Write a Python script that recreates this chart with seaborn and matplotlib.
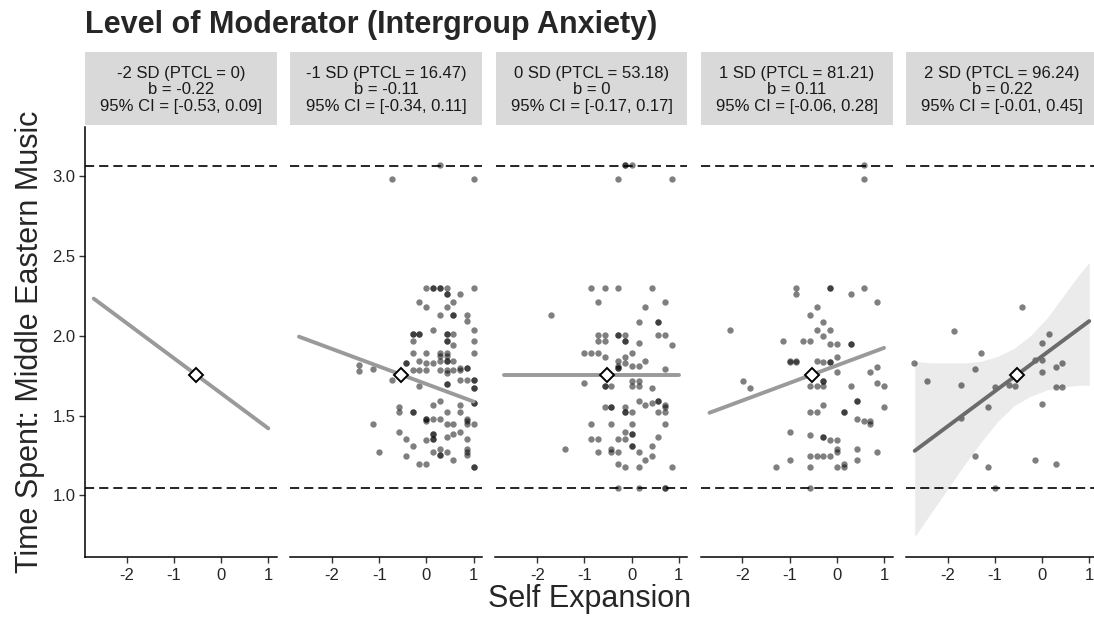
import numpy as np
import pandas as pd
import seaborn as sns
import matplotlib.pyplot as plt

sns.set_theme(style="ticks")
plt.rcParams["font.family"] = ["Liberation Sans", "DejaVu Sans"]
plt.rcParams["axes.unicode_minus"] = False

# facet labels and simple slopes
strip_labels = [
    "-2 SD (PTCL = 0)\nb = -0.22\n95% CI = [-0.53, 0.09]",
    "-1 SD (PTCL = 16.47)\nb = -0.11\n95% CI = [-0.34, 0.11]",
    "0 SD (PTCL = 53.18)\nb = 0\n95% CI = [-0.17, 0.17]",
    "1 SD (PTCL = 81.21)\nb = 0.11\n95% CI = [-0.06, 0.28]",
    "2 SD (PTCL = 96.24)\nb = 0.22\n95% CI = [-0.01, 0.45]",
]
slopes = [-0.22, -0.11, 0.0, 0.11, 0.22]
significant = [False, False, False, False, True]
x_span = [-2.7, 1.0]
mean_x, mean_y = -0.53, 1.756
y_max, y_min = 3.068, 1.046

# confidence band for the +2 SD panel
band_x = [-2.7, -2.35, -2.0, -1.65, -1.3, -0.95, -0.6, -0.25, 0.1, 0.45, 0.8, 1.0]
band_lo = [0.74, 0.89, 1.04, 1.19, 1.33, 1.46, 1.56, 1.62, 1.66, 1.68, 1.69, 1.69]
band_hi = [1.84, 1.83, 1.83, 1.83, 1.84, 1.87, 1.92, 2.00, 2.11, 2.25, 2.39, 2.46]

# raw points per panel, grouped by y value: (y, [x, ...])
p1_rows = []
p2_rows = [
    (3.07, [0.29]),
    (2.985, [-0.72, 1.00]),
    (2.30, [0.00, 0.15, 0.15, 0.29, 0.29, 0.43, 1.00]),
    (2.26, [0.43, 0.43, 0.71]),
    (2.215, [-0.15, 0.57]),
    (2.18, [0.00, 0.43]),
    (2.13, [0.29, 0.57, 0.57, 0.86]),
    (2.09, [0.86]),
    (2.035, [0.15, 1.00]),
    (2.01, [-0.29, -0.29, -0.15, -0.15, 0.43, 0.43, 0.57]),
    (1.965, [-0.29, 0.43, 0.43, 1.00]),
    (1.94, [0.57]),
    (1.89, [-0.29, 0.00, 0.29, 0.43, 1.00]),
    (1.875, [0.29, 0.43]),
    (1.845, [-0.15, 0.29, 0.43, 0.43, 0.57]),
    (1.83, [-0.43, -0.43, 0.00, 0.15]),
    (1.817, [-1.42]),
    (1.80, [0.71, 0.86, 0.86]),
    (1.792, [-1.14]),
    (1.786, [-0.29, -0.15, 0.00, 0.29, 0.43, 0.57, 0.71]),
    (1.78, [-1.42]),
    (1.765, [0.43]),
    (1.72, [-0.72, 0.71, 0.86, 1.00, 1.00]),
    (1.70, [0.43, 0.43]),
    (1.688, [-0.15]),
    (1.673, [1.00, 1.00]),
    (1.594, [0.29]),
    (1.58, [1.00, 1.00]),
    (1.569, [0.15, 0.71]),
    (1.552, [-0.57]),
    (1.521, [-0.57, -0.29, -0.29, 0.43, 0.71]),
    (1.48, [0.00, 0.00, 0.15, 0.29, 0.86]),
    (1.465, [0.00, 0.86]),
    (1.444, [-1.14, 0.43, 0.57, 0.86, 1.00]),
    (1.396, [-0.57, 0.71]),
    (1.381, [0.15, 0.15, 0.57]),
    (1.365, [0.43]),
    (1.354, [-0.43, 0.15, 0.15, 0.86]),
    (1.344, [0.00]),
    (1.306, [-0.29]),
    (1.292, [0.29, 0.86]),
    (1.271, [-1.00, 0.15, 0.43, 0.86]),
    (1.25, [0.29, 0.29, 0.86]),
    (1.244, [-0.43]),
    (1.219, [0.57]),
    (1.194, [-0.15, 0.00]),
    (1.177, [1.00, 1.00]),
]
p3_rows = [
    (3.07, [-0.15, -0.15, 0.00]),
    (2.985, [-0.29, 0.86]),
    (2.30, [-0.86, -0.57, -0.29, 0.43]),
    (2.213, [-0.72, 0.71]),
    (2.18, [0.29]),
    (2.13, [-1.70]),
    (2.088, [0.15, 0.57, 0.57]),
    (2.008, [-0.72, -0.57, -0.29, -0.29, -0.15, 0.57, 0.71]),
    (1.965, [-0.72, -0.57, -0.15, -0.15]),
    (1.952, [0.15]),
    (1.942, [0.86]),
    (1.89, [-1.00, -0.86, -0.72, 0.00]),
    (1.865, [-0.57, -0.15]),
    (1.844, [-0.29, 0.29]),
    (1.829, [-0.15]),
    (1.813, [-0.29, 0.00, 0.15]),
    (1.798, [-0.29, -0.29]),
    (1.792, [0.71]),
    (1.719, [0.00, 0.15]),
    (1.704, [-1.00]),
    (1.688, [-0.57, -0.57, -0.43, 0.00, 0.15]),
    (1.673, [0.43]),
    (1.594, [0.15, 0.57, 0.57]),
    (1.579, [0.43]),
    (1.569, [0.29, 0.71]),
    (1.552, [-0.57, -0.43, -0.43, -0.15, 0.71]),
    (1.521, [-0.15, -0.15, 0.00, 0.57, 0.71]),
    (1.444, [-0.86, -0.43, 0.00, 0.71]),
    (1.396, [-0.15]),
    (1.381, [0.00, 0.00]),
    (1.365, [0.57]),
    (1.354, [-0.86, -0.72, -0.29, -0.15]),
    (1.306, [0.00, 0.00, 0.43]),
    (1.292, [-1.42, -0.43]),
    (1.271, [-0.72, -0.43, -0.29, 0.15]),
    (1.244, [0.43]),
    (1.219, [0.29]),
    (1.194, [-0.29]),
    (1.177, [-0.15, 0.15, 0.86]),
    (1.046, [-0.29, 0.15, 0.71, 0.71]),
]
p4_rows = [
    (3.07, [0.57]),
    (2.985, [0.57]),
    (2.30, [-0.86, -0.15, -0.15, 0.57]),
    (2.26, [-0.86, 0.29]),
    (2.215, [0.86]),
    (2.18, [-0.43]),
    (2.13, [-0.57]),
    (2.088, [-0.29]),
    (2.035, [-2.27, -0.43, -0.15]),
    (2.00, [-0.29]),
    (1.965, [-1.14, -0.72, -0.57]),
    (1.948, [-0.15, 0.00, 0.29, 0.29]),
    (1.869, [0.00]),
    (1.844, [-1.00, -0.86, -0.43]),
    (1.833, [-1.00, -0.86, -0.29, -0.15, -0.15]),
    (1.806, [0.86]),
    (1.771, [0.00, 0.71]),
    (1.719, [-1.99, -0.29, -0.29]),
    (1.704, [0.86]),
    (1.688, [-0.57, -0.43, -0.29, 0.29, 1.00]),
    (1.673, [-1.85]),
    (1.594, [0.43, 0.43]),
    (1.569, [-0.29]),
    (1.552, [1.00]),
    (1.521, [-0.57, -0.43, 0.15, 0.15]),
    (1.479, [0.43]),
    (1.465, [0.57, 0.71]),
    (1.444, [0.71]),
    (1.396, [-1.00]),
    (1.375, [-0.57]),
    (1.365, [-0.29, -0.29]),
    (1.344, [-0.15, 0.00]),
    (1.292, [0.00, 0.43]),
    (1.271, [0.00, 0.86]),
    (1.244, [-0.57, -0.43, -0.29, -0.15]),
    (1.219, [-1.00, 0.43]),
    (1.194, [0.15]),
    (1.177, [-1.28, -0.57, 0.00, 0.15]),
    (1.046, [-0.57]),
]
p5_rows = [
    (2.183, [-0.43]),
    (2.033, [-1.86]),
    (2.01, [0.14]),
    (1.952, [0.00]),
    (1.89, [-1.29]),
    (1.848, [-0.14, 0.00]),
    (1.829, [-2.71, 0.43]),
    (1.806, [0.29]),
    (1.792, [-1.43]),
    (1.771, [0.00]),
    (1.719, [-2.43]),
    (1.692, [-1.71, -0.71]),
    (1.688, [-0.57]),
    (1.677, [-1.00, 0.29, 0.43]),
    (1.573, [0.00]),
    (1.552, [-1.14]),
    (1.483, [-1.71]),
    (1.246, [-1.43]),
    (1.219, [-0.14]),
    (1.194, [0.29]),
    (1.177, [-1.14]),
    (1.046, [-1.00]),
]
panel_rows = [p1_rows, p2_rows, p3_rows, p4_rows, p5_rows]


def to_frame(rows):
    xs, ys = [], []
    for yv, row in rows:
        xs += row
        ys += [yv] * len(row)
    return pd.DataFrame({"x": xs, "y": ys})


W, H = 1094, 622
fig = plt.figure(figsize=(W / 100, H / 100), dpi=100)
lefts = [85, 290.25, 495.5, 700.75, 906]
pw = 192
top, bottom = 127, 557
strip_top, strip_bottom = 52, 125

for i, l in enumerate(lefts):
    ax = fig.add_axes([l / W, (H - bottom) / H, pw / W, (bottom - top) / H])
    ax.set_xlim(-2.885, 1.185)
    ax.set_ylim(0.6125, 3.31)

    for yv in (y_max, y_min):
        ax.axhline(yv, color="black", lw=1.2, ls=(0, (5.5, 3)), zorder=2)

    if significant[i]:
        ax.fill_between(band_x, band_lo, band_hi, color="#ebebeb", lw=0, zorder=1)

    df = to_frame(panel_rows[i])
    if len(df):
        sns.scatterplot(data=df, x="x", y="y", ax=ax, color="black", alpha=0.5,
                        s=21, linewidth=0, zorder=3)

    xs = np.array(x_span)
    ys = mean_y + slopes[i] * (xs - mean_x)
    sns.lineplot(x=xs, y=ys, ax=ax, color="#6b6b6b" if significant[i] else "#9a9a9a",
                 lw=2.8, zorder=4, estimator=None)
    ax.plot(mean_x, mean_y, marker="D", ms=7.5, mfc="white", mec="black", mew=1.4,
            zorder=5)

    ax.set_xlabel("")
    ax.set_ylabel("")
    ax.set_xticks([-2, -1, 0, 1])
    ax.set_xticklabels(["-2", "-1", "0", "1"])
    for s in ("top", "right"):
        ax.spines[s].set_visible(False)
    ax.spines["bottom"].set_color("black")
    ax.spines["bottom"].set_linewidth(1.1)
    ax.tick_params(axis="x", length=4, width=1, color="#333333", labelsize=12,
                   labelcolor="#262626", pad=4)
    if i == 0:
        ax.spines["left"].set_color("black")
        ax.spines["left"].set_linewidth(1.1)
        ax.set_yticks([1.0, 1.5, 2.0, 2.5, 3.0])
        ax.set_yticklabels(["1.0", "1.5", "2.0", "2.5", "3.0"])
        ax.tick_params(axis="y", length=4, width=1, color="#333333", labelsize=12,
                       labelcolor="#262626", pad=3)
    else:
        ax.spines["left"].set_visible(False)
        ax.tick_params(axis="y", left=False, labelleft=False)

    sa = fig.add_axes([l / W, (H - strip_bottom) / H, pw / W,
                       (strip_bottom - strip_top) / H])
    sa.set_facecolor("#d9d9d9")
    sa.set_xticks([])
    sa.set_yticks([])
    for s in sa.spines.values():
        s.set_visible(False)
    sa.text(0.5, 0.48, strip_labels[i], ha="center", va="center", fontsize=12,
            linespacing=1.12, color="#1a1a1a", transform=sa.transAxes)

fig.text(85 / W, 1 - 33 / H, "Level of Moderator (Intergroup Anxiety)",
         fontsize=22, fontweight="bold", ha="left", va="baseline")
fig.text(590 / W, 1 - 599 / H, "Self Expansion", fontsize=22, ha="center", va="center")
fig.text(30 / W, 1 - 342 / H, "Time Spent: Middle Eastern Music", fontsize=22,
         rotation=90, ha="center", va="center")

fig.savefig("out.png", dpi=100, facecolor="white")
